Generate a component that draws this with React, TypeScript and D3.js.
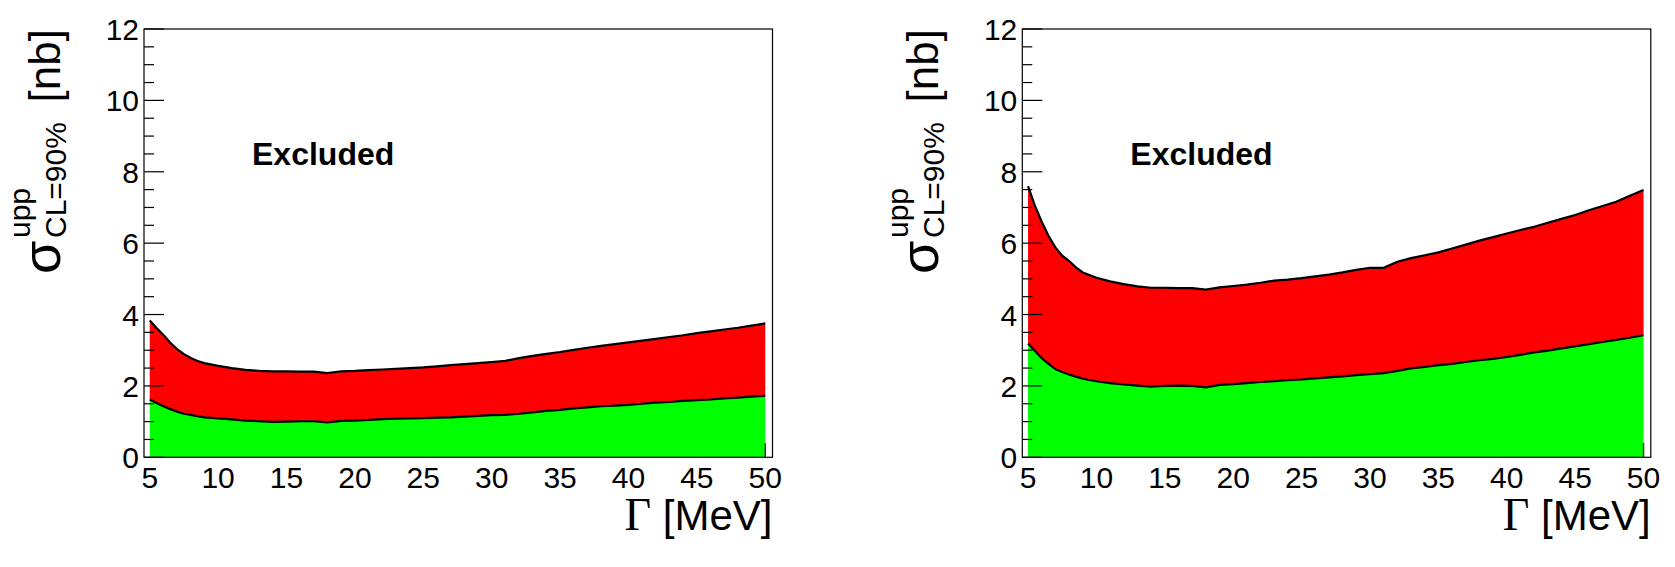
import React from "react";
import * as d3 from "d3";

const gamma = [5, 5.5, 6, 6.5, 7, 7.5, 8, 8.5, 9, 10, 11, 12, 13, 14, 15, 16, 17, 18, 19, 20, 21, 22, 23, 24, 25, 26, 27, 28, 29, 30, 31, 32, 33, 34, 35, 36, 37, 38, 39, 40, 41, 42, 43, 44, 45, 46, 47, 48, 49, 50];

const leftUpper = [3.83, 3.62, 3.43, 3.21, 3.03, 2.89, 2.78, 2.70, 2.64, 2.56, 2.50, 2.45, 2.42, 2.41, 2.41, 2.40, 2.40, 2.36, 2.41, 2.42, 2.44, 2.46, 2.48, 2.50, 2.52, 2.55, 2.58, 2.61, 2.64, 2.67, 2.70, 2.78, 2.84, 2.90, 2.95, 3.01, 3.07, 3.12, 3.17, 3.22, 3.27, 3.32, 3.37, 3.42, 3.48, 3.53, 3.58, 3.63, 3.69, 3.75];
const leftLower = [1.62, 1.52, 1.43, 1.35, 1.28, 1.22, 1.19, 1.15, 1.12, 1.09, 1.06, 1.03, 1.01, 0.99, 1.00, 1.01, 1.01, 0.98, 1.02, 1.03, 1.05, 1.07, 1.08, 1.09, 1.10, 1.11, 1.12, 1.14, 1.16, 1.18, 1.19, 1.22, 1.26, 1.30, 1.33, 1.37, 1.40, 1.43, 1.45, 1.47, 1.50, 1.53, 1.55, 1.58, 1.60, 1.62, 1.65, 1.67, 1.70, 1.72];
const rightUpper = [7.60, 7.05, 6.60, 6.20, 5.88, 5.65, 5.50, 5.32, 5.18, 5.03, 4.93, 4.85, 4.79, 4.75, 4.75, 4.74, 4.74, 4.70, 4.76, 4.80, 4.84, 4.89, 4.95, 4.98, 5.02, 5.07, 5.12, 5.18, 5.25, 5.31, 5.31, 5.48, 5.58, 5.66, 5.74, 5.85, 5.96, 6.07, 6.17, 6.27, 6.37, 6.46, 6.57, 6.68, 6.79, 6.92, 7.04, 7.16, 7.33, 7.49];
const rightLower = [3.19, 2.98, 2.78, 2.62, 2.47, 2.39, 2.32, 2.26, 2.20, 2.13, 2.08, 2.04, 2.01, 1.98, 2.00, 2.01, 2.00, 1.96, 2.03, 2.05, 2.08, 2.11, 2.13, 2.16, 2.18, 2.21, 2.24, 2.27, 2.30, 2.33, 2.36, 2.42, 2.49, 2.53, 2.58, 2.62, 2.67, 2.72, 2.76, 2.81, 2.87, 2.94, 2.99, 3.05, 3.11, 3.17, 3.23, 3.29, 3.35, 3.42];

const xTicks = [5, 10, 15, 20, 25, 30, 35, 40, 45, 50];
const yMajor = [0, 2, 4, 6, 8, 10, 12];
const yMinor = d3.range(0, 12.01, 0.5).filter((v) => Math.abs(v % 2) > 1e-6);
const xDomain: [number, number] = [4.58, 50.53];
const yDomain: [number, number] = [0, 12];
const annotation = "Excluded";

const SANS = "'Liberation Sans', Arial, Helvetica, sans-serif";
const SERIF = "'Liberation Serif', 'Times New Roman', serif";

type PanelProps = { left: number; upper: number[]; lower: number[] };

function Panel({ left, upper, lower }: PanelProps) {
  const top = 29;
  const bottom = 457.3;
  const width = 628.5;
  const x = d3.scaleLinear().domain(xDomain).range([left, left + width]);
  const y = d3.scaleLinear().domain(yDomain).range([bottom, top]);
  const idx = gamma.map((_, i) => i);
  const greenArea = d3
    .area<number>()
    .x((i) => x(gamma[i]))
    .y0(() => y(0))
    .y1((i) => y(lower[i]));
  const redArea = d3
    .area<number>()
    .x((i) => x(gamma[i]))
    .y0((i) => y(lower[i]))
    .y1((i) => y(upper[i]));
  const lineU = d3.line<number>().x((i) => x(gamma[i])).y((i) => y(upper[i]));
  const lineL = d3.line<number>().x((i) => x(gamma[i])).y((i) => y(lower[i]));
  const tickFont = 30;
  const lastX = x(gamma[gamma.length - 1]);
  return (
    <g>
      <path d={redArea(idx) || ""} fill="#ff0000" stroke="none" />
      <path d={greenArea(idx) || ""} fill="#00ff00" stroke="none" />
      <path d={lineU(idx) || ""} fill="none" stroke="#000" strokeWidth={2.2} />
      <path d={lineL(idx) || ""} fill="none" stroke="#000" strokeWidth={2.2} />
      <line x1={lastX} x2={lastX} y1={y(0)} y2={y(0.4)} stroke="#333" strokeWidth={1.5} />
      <rect x={left} y={top} width={width} height={bottom - top} fill="none" stroke="#000" strokeWidth={1.2} />
      {yMajor.map((v) => (
        <g key={"M" + v}>
          <line x1={left} x2={left + 20} y1={y(v)} y2={y(v)} stroke="#000" strokeWidth={1.2} />
          <text x={left - 5} y={y(v) + 11} textAnchor="end" fontFamily={SANS} fontSize={tickFont}>
            {v}
          </text>
        </g>
      ))}
      {yMinor.map((v) => (
        <line key={"m" + v} x1={left} x2={left + 10} y1={y(v)} y2={y(v)} stroke="#000" strokeWidth={1.2} />
      ))}
      {xTicks.map((v) => (
        <text key={"x" + v} x={x(v)} y={488} textAnchor="middle" fontFamily={SANS} fontSize={tickFont}>
          {v}
        </text>
      ))}
      <text x={left + 108} y={165} fontFamily={SANS} fontWeight="bold" fontSize={32}>
        {annotation}
      </text>
      <text x={left + width} y={530} textAnchor="end" fontFamily={SANS} fontSize={42}>
        <tspan fontFamily={SERIF} fontSize={46}>Γ</tspan> [MeV]
      </text>
      <g transform={`translate(${left - 84},${top}) rotate(-90)`} fontFamily={SANS}>
        <text x={-245} y={0} fontSize={54}>σ</text>
        <text x={-209} y={-30} fontSize={30}>upp</text>
        <text x={-209} y={6} fontSize={30}>CL=90%</text>
        <text x={0} y={0} textAnchor="end" fontSize={44}>[nb]</text>
      </g>
    </g>
  );
}

export default function App() {
  return (
    <svg
      width={1675}
      height={567}
      style={{ position: "absolute", left: 0, top: 0, background: "#fff" }}
    >
      <rect x={0} y={0} width={1675} height={567} fill="#fff" />
      <Panel left={144} upper={leftUpper} lower={leftLower} />
      <Panel left={1022.3} upper={rightUpper} lower={rightLower} />
    </svg>
  );
}
